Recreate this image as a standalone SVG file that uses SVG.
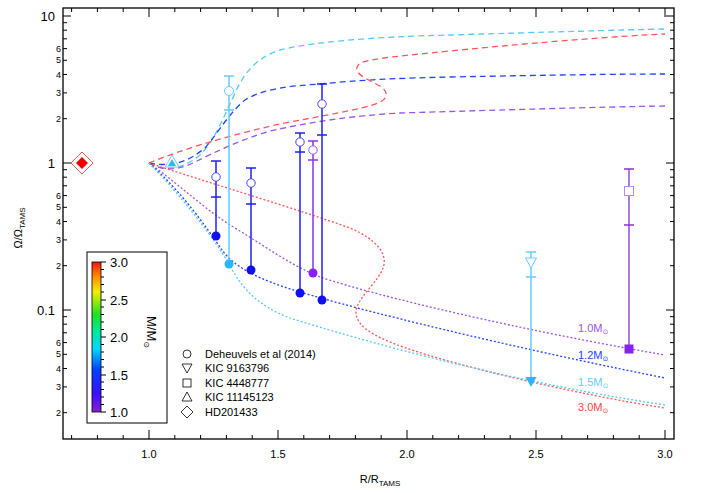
<svg xmlns="http://www.w3.org/2000/svg" width="708" height="493" viewBox="0 0 708 493">
<defs>
<linearGradient id="cb" x1="0" y1="1" x2="0" y2="0">
<stop offset="0" stop-color="#8a1fd0"/><stop offset="0.12" stop-color="#3a10ff"/><stop offset="0.28" stop-color="#0040ff"/><stop offset="0.42" stop-color="#00d8ff"/><stop offset="0.55" stop-color="#00e890"/><stop offset="0.65" stop-color="#20e020"/><stop offset="0.8" stop-color="#f0f000"/><stop offset="0.9" stop-color="#ff9000"/><stop offset="1" stop-color="#ff1010"/>
</linearGradient>
</defs>
<style>
text{font-family:"Liberation Sans","DejaVu Sans",sans-serif;fill:#000}
.ax{stroke:#000;stroke-width:1.3;fill:none}
.tk{stroke:#000;stroke-width:1}
.dash{fill:none;stroke-width:1.3;stroke-dasharray:6 4}
.dot{fill:none;stroke-width:1.3;stroke-dasharray:2 2}
.r{stroke:#ff5555}.p{stroke:#9955ee}.b{stroke:#2244ff}.c{stroke:#55c8ff}
.big{font-size:13px}.sm{font-size:9px}.lg{font-size:11px}
</style>
<rect width="708" height="493" fill="#fff"/>
<g id="axes">
<rect class="ax" x="63" y="8" width="611" height="431"/>
<path class="tk" d="M63,16h8M63,163h8M63,310h8M674,16h-8M674,163h-8M674,310h-8
M63,22.7h4M63,30.2h4M63,38.8h4M63,48.6h4M63,60.3h4M63,74.5h4M63,92.9h4M63,118.7h4
M63,169.7h4M63,177.2h4M63,185.8h4M63,195.6h4M63,207.3h4M63,221.5h4M63,239.9h4M63,265.7h4
M63,316.7h4M63,324.2h4M63,332.8h4M63,342.6h4M63,354.3h4M63,368.5h4M63,386.9h4M63,412.7h4
M674,22.7h-4M674,30.2h-4M674,38.8h-4M674,48.6h-4M674,60.3h-4M674,74.5h-4M674,92.9h-4M674,118.7h-4
M674,169.7h-4M674,177.2h-4M674,185.8h-4M674,195.6h-4M674,207.3h-4M674,221.5h-4M674,239.9h-4M674,265.7h-4
M674,316.7h-4M674,324.2h-4M674,332.8h-4M674,342.6h-4M674,354.3h-4M674,368.5h-4M674,386.9h-4M674,412.7h-4
M149,439v-9M278,439v-9M407,439v-9M536,439v-9M665,439v-9M149,8v9M278,8v9M407,8v9M536,8v9M665,8v9
M71.6,439v-4M97.4,439v-4M123.2,439v-4M174.8,439v-4M200.6,439v-4M226.4,439v-4M252.2,439v-4M303.8,439v-4M329.6,439v-4M355.4,439v-4M381.2,439v-4M432.8,439v-4M458.6,439v-4M484.4,439v-4M510.2,439v-4M561.8,439v-4M587.6,439v-4M613.4,439v-4M639.2,439v-4
M71.6,8v4M97.4,8v4M123.2,8v4M174.8,8v4M200.6,8v4M226.4,8v4M252.2,8v4M303.8,8v4M329.6,8v4M355.4,8v4M381.2,8v4M432.8,8v4M458.6,8v4M484.4,8v4M510.2,8v4M561.8,8v4M587.6,8v4M613.4,8v4M639.2,8v4"/>
<g class="big" text-anchor="end">
<text x="55" y="21">10</text><text x="55" y="168">1</text><text x="55" y="315">0.1</text>
</g>
<g class="sm" text-anchor="end">
<text x="61" y="51.6">6</text><text x="61" y="63.3">5</text><text x="61" y="77.5">4</text><text x="61" y="95.9">3</text><text x="61" y="121.7">2</text>
<text x="61" y="198.6">6</text><text x="61" y="210.3">5</text><text x="61" y="224.5">4</text><text x="61" y="242.9">3</text><text x="61" y="268.7">2</text>
<text x="61" y="345.6">6</text><text x="61" y="357.3">5</text><text x="61" y="371.5">4</text><text x="61" y="389.9">3</text><text x="61" y="415.7">2</text>
</g>
<g class="lg" text-anchor="middle">
<text x="149" y="458">1.0</text><text x="278" y="458">1.5</text><text x="407" y="458">2.0</text><text x="536" y="458">2.5</text><text x="665" y="458">3.0</text>
</g>
<text class="lg" x="380" y="483" text-anchor="middle">R/R<tspan font-size="8" dy="3">TAMS</tspan></text>
<text class="lg" transform="translate(22,228) rotate(-90)" text-anchor="middle">Ω/Ω<tspan font-size="8" dy="3">TAMS</tspan></text>
</g>
<g id="connectors">
<path class="dash c" d="M149,163 C160,170 180,172 200,155 C215,140 222,120 232,100 C242,75 255,58 280,50 C320,40 400,36 450,35 C550,32 620,30 665,29"/>
<path class="dash b" d="M149,163 C175,168 190,160 205,148 C220,130 230,112 245,100 C265,88 290,86 320,84 C360,80 400,78 450,77 C550,75 620,74 665,74"/>
<path class="dash r" d="M149,163 C180,150 230,135 280,124 C320,116 360,110 378,103 C390,98 388,90 378,85 C365,78 350,72 360,63 C375,58 400,56 450,51 C540,42 620,36 665,34"/>
<path class="dash p" d="M149,163 C160,170 175,172 195,162 C215,152 240,140 270,131 C310,122 350,116 400,113 C500,110 600,107 665,106"/>
<path class="dot r" d="M149,163 C200,180 300,210 350,228 C378,240 388,255 383,268 C378,282 360,295 356,310 C355,325 370,335 403,347 C460,367 580,395 665,408"/>
<path class="dot p" d="M149,163 C180,185 205,210 235,228 C265,246 290,265 320,277 C380,297 520,330 665,355"/>
<path class="dot b" d="M149,163 C180,190 205,225 222,250 C235,268 260,280 300,292 C360,310 500,345 665,378"/>
<path class="dot c" d="M149,163 C185,200 215,240 229,264 C240,285 255,305 290,318 C360,340 500,380 665,405"/>
</g>
<g id="deheuvels-1"><path stroke="#2020ee" stroke-width="1.5" d="M216,161V236M211,161h10M211,197h10"/><circle cx="216" cy="177" r="4.2" fill="#fff" stroke="#4444ff"/><circle cx="216" cy="236" r="4.5" fill="#1010ee"/></g>
<g id="deheuvels-2"><path stroke="#66ccff" stroke-width="1.5" d="M229,76V264M224,76h10M224,110h10"/><circle cx="229" cy="91" r="4.5" fill="#fff" stroke="#66ccff"/><circle cx="229" cy="264" r="4.5" fill="#22bbff"/></g>
<g id="deheuvels-3"><path stroke="#2020ee" stroke-width="1.5" d="M251,168V270M246,168h10M246,204h10"/><circle cx="251" cy="183" r="4.2" fill="#fff" stroke="#4444ff"/><circle cx="251" cy="270" r="4.5" fill="#1010ee"/></g>
<g id="deheuvels-4"><path stroke="#2020ee" stroke-width="1.5" d="M300,133V293M295,133h10M295,152h10"/><circle cx="300" cy="142" r="4.2" fill="#fff" stroke="#4444ff"/><circle cx="300" cy="293" r="4.5" fill="#1010ee"/></g>
<g id="deheuvels-5"><path stroke="#8833ee" stroke-width="1.5" d="M313,141V273M308,141h10M308,160h10"/><circle cx="313" cy="150" r="4.2" fill="#fff" stroke="#9955ee"/><circle cx="313" cy="273" r="4.5" fill="#8822ee"/></g>
<g id="deheuvels-6"><path stroke="#2020ee" stroke-width="1.5" d="M322,84V300M317,84h10M317,135h10"/><circle cx="322" cy="104" r="4.2" fill="#fff" stroke="#4444ff"/><circle cx="322" cy="300" r="4.5" fill="#1010ee"/></g>
<g id="kic9163796"><path stroke="#66ccff" stroke-width="1.5" d="M531,252V382M526,252h10M526,277h10"/><path d="M525.5,258h11l-5.5,10z" fill="#fff" stroke="#66ccff"/><path d="M525.5,377h11l-5.5,10z" fill="#22bbff"/></g>
<g id="kic4448777"><path stroke="#8833cc" stroke-width="1.3" d="M629,169V349M624,169h10M624,225h10"/><rect x="624.5" y="186.5" width="9" height="9" fill="#fff" stroke="#bb88ee"/><rect x="624.5" y="344.5" width="9" height="9" fill="#8822ee"/></g>
<g id="kic11145123"><path d="M172,155l7,12h-14z" fill="#fff" stroke="#66ccff"/><path d="M172,159l4,7h-8z" fill="#22bbff"/></g>
<g id="hd201433"><path d="M82,152l11,11l-11,11l-11,-11z" fill="#fff" stroke="#ff5555"/><path d="M82,157l6,6l-6,6l-6,-6z" fill="#ee0000"/></g>
<g id="curve-labels" class="lg">
<text x="578" y="332" fill="#9955ee" style="fill:#9955ee">1.0M<tspan font-size="7" dy="2">⊙</tspan></text>
<text x="578" y="359" style="fill:#2244ff">1.2M<tspan font-size="7" dy="2">⊙</tspan></text>
<text x="578" y="386" style="fill:#66ccff">1.5M<tspan font-size="7" dy="2">⊙</tspan></text>
<text x="578" y="411" style="fill:#ff4444">3.0M<tspan font-size="7" dy="2">⊙</tspan></text>
</g>
<g id="colorbar">
<rect x="87" y="252" width="80" height="171" fill="#fff" stroke="#000" stroke-width="1"/>
<rect x="92" y="262" width="9" height="150" fill="url(#cb)" stroke="#000" stroke-width="0.8"/>
<path class="tk" d="M101,262h5M101,300h5M101,337h5M101,375h5M101,412h5M101,269.5h3M101,277h3M101,284.5h3M101,292h3M101,307h3M101,314.5h3M101,322h3M101,329.5h3M101,344.5h3M101,352h3M101,359.5h3M101,367h3M101,382h3M101,389.5h3M101,397h3M101,404.5h3"/>
<g class="big"><text x="110" y="267">3.0</text><text x="110" y="305">2.5</text><text x="110" y="342">2.0</text><text x="110" y="380">1.5</text><text x="110" y="417">1.0</text></g>
<text class="big" transform="translate(147,332) rotate(90)" text-anchor="middle">M/M<tspan font-size="8" dy="3">⊙</tspan></text>
</g>
<g id="legend" class="lg">
<circle cx="187" cy="354" r="4" fill="none" stroke="#000" stroke-width="0.8"/><text x="205" y="358">Deheuvels et al (2014)</text>
<path d="M182,364h10l-5,9z" fill="none" stroke="#000" stroke-width="0.8"/><text x="205" y="372">KIC 9163796</text>
<rect x="183" y="379" width="8" height="8" fill="none" stroke="#000" stroke-width="0.8"/><text x="205" y="387">KIC 4448777</text>
<path d="M187,392l5,9h-10z" fill="none" stroke="#000" stroke-width="0.8"/><text x="205" y="401">KIC 11145123</text>
<path d="M187,406l6,6l-6,6l-6,-6z" fill="none" stroke="#000" stroke-width="0.8"/><text x="205" y="416">HD201433</text>
</g>
</svg>
